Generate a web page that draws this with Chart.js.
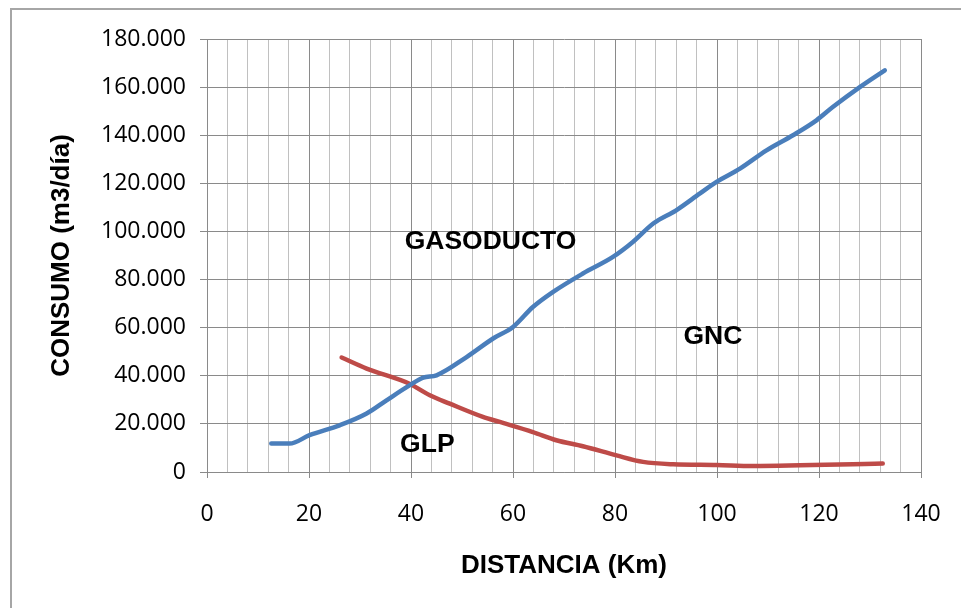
<!DOCTYPE html>
<html lang="es">
<head>
<meta charset="UTF-8">
<title>Consumo vs distancia</title>
<script src="https://cdn.jsdelivr.net/npm/chart.js"></script>
<style>
  body { margin: 0; background: #fff; }
  #wrap { width: 961px; height: 608px; }
</style>
</head>
<body>
<div id="wrap"><canvas id="grafico"></canvas></div>
<script>
// datos
const gasoductoKm = [12.6, 16.2, 20.1, 26.0, 31.3, 35.2, 39.7, 42.4, 45.0, 50.9, 56.1, 60.0, 63.9, 67.8, 73.7, 79.6, 83.5, 87.5, 92.0, 96.6, 99.9, 104.5, 109.7, 114.9, 119.5, 122.7, 128.0, 132.9];
const gasoductoM3 = [11800, 11800, 15300, 19400, 24300, 29800, 36000, 39200, 40200, 47800, 55500, 60300, 68600, 74800, 82500, 89400, 95600, 103300, 108800, 115700, 120600, 126100, 133700, 140000, 146200, 151700, 160000, 167000];
const glpKm = [26.4, 31.3, 39.7, 43.7, 47.6, 54.1, 57.4, 63.9, 68.5, 73.7, 80.3, 85.5, 91.4, 99.9, 107.0, 132.5];
const glpM3 = [47600, 43000, 36700, 31900, 28400, 22900, 20800, 16600, 13200, 10700, 6900, 4200, 3200, 2900, 2500, 3500];

const xTickLabels = ['0', '20', '40', '60', '80', '100', '120', '140'];
const yTickLabels = ['0', '20.000', '40.000', '60.000', '80.000', '100.000', '120.000', '140.000', '160.000', '180.000'];

// rotulos dentro del area de trazado
const rotulos = ['GASODUCTO', 'GNC', 'GLP'];
const rotulosKm = [55.6, 99.2, 43.2];
const rotulosM3 = [95900, 56100, 11500];

const toPoints = (xs, ys) => xs.map((x, i) => ({ x: x, y: ys[i] }));

const bold = { family: "'Liberation Sans', Arial, sans-serif", size: 26, weight: 'bold', lineHeight: 1.2 };
const tickFont = { family: "'Open Sans', sans-serif", size: 23 };

const marco = {
  id: 'marco',
  beforeDraw(chart) {
    const c = chart.ctx;
    c.save();
    c.strokeStyle = '#a6a6a6';
    c.lineWidth = 2;
    c.beginPath();
    c.moveTo(11, chart.height);
    c.lineTo(11, 9);
    c.lineTo(chart.width, 9);
    c.stroke();
    c.restore();
  },
  afterDatasetsDraw(chart) {
    const c = chart.ctx;
    const sx = chart.scales.x, sy = chart.scales.y;
    c.save();
    c.font = 'bold 26.5px "Liberation Sans", Arial, sans-serif';
    c.fillStyle = '#000';
    c.textAlign = 'center';
    c.textBaseline = 'middle';
    rotulos.forEach((t, i) => {
      c.fillText(t, sx.getPixelForValue(rotulosKm[i]), sy.getPixelForValue(rotulosM3[i]));
    });
    c.restore();
  }
};

new Chart(document.getElementById('grafico'), {
  type: 'scatter',
  data: {
    datasets: [
      {
        label: 'GASODUCTO',
        data: toPoints(gasoductoKm, gasoductoM3),
        showLine: true,
        borderColor: '#4a7ebb',
        borderWidth: 4.5,
        pointRadius: 0,
        cubicInterpolationMode: 'monotone',
        borderCapStyle: 'round'
      },
      {
        label: 'GLP',
        data: toPoints(glpKm, glpM3),
        showLine: true,
        borderColor: '#be4b48',
        borderWidth: 4.5,
        pointRadius: 0,
        cubicInterpolationMode: 'monotone',
        borderCapStyle: 'round'
      }
    ]
  },
  options: {
    responsive: true,
    maintainAspectRatio: false,
    animation: false,
    layout: { padding: { top: 39, right: 40, left: 0, bottom: 0 } },
    plugins: {
      legend: { display: false },
      tooltip: { enabled: false }
    },
    scales: {
      x: {
        type: 'linear',
        min: 0,
        max: 140,
        afterFit: s => { s.height = 136; s.paddingRight = 0; s.paddingLeft = 0; },
        ticks: {
          stepSize: 4,
          autoSkip: false,
          maxRotation: 0,
          padding: 23,
          color: '#000',
          font: tickFont,
          callback: v => (v % 20 === 0 ? xTickLabels[v / 20] : '')
        },
        grid: {
          color: c => (c.tick && c.tick.value % 20 === 0 ? '#8a8a8a' : '#c0c0c0'),
          tickColor: c => (c.tick && c.tick.value % 20 === 0 ? '#8a8a8a' : 'rgba(0,0,0,0)'),
          tickLength: 6,
          lineWidth: 1
        },
        border: { color: '#8a8a8a' },
        title: {
          display: true,
          text: 'DISTANCIA (Km)',
          color: '#000',
          font: bold,
          padding: { top: 0, bottom: 27 }
        }
      },
      y: {
        min: 0,
        max: 180000,
        afterFit: s => { s.width = 207; s.paddingTop = 0; s.paddingBottom = 0; },
        ticks: {
          stepSize: 20000,
          padding: 14,
          color: '#000',
          font: tickFont,
          callback: v => yTickLabels[v / 20000]
        },
        grid: {
          color: '#8a8a8a',
          tickColor: '#8a8a8a',
          tickLength: 7,
          lineWidth: 1
        },
        border: { color: '#8a8a8a' },
        title: {
          display: true,
          text: 'CONSUMO (m3/día)',
          color: '#000',
          font: bold,
          padding: { top: 46, bottom: 0 }
        }
      }
    }
  },
  plugins: [marco]
});
</script>
</body>
</html>
